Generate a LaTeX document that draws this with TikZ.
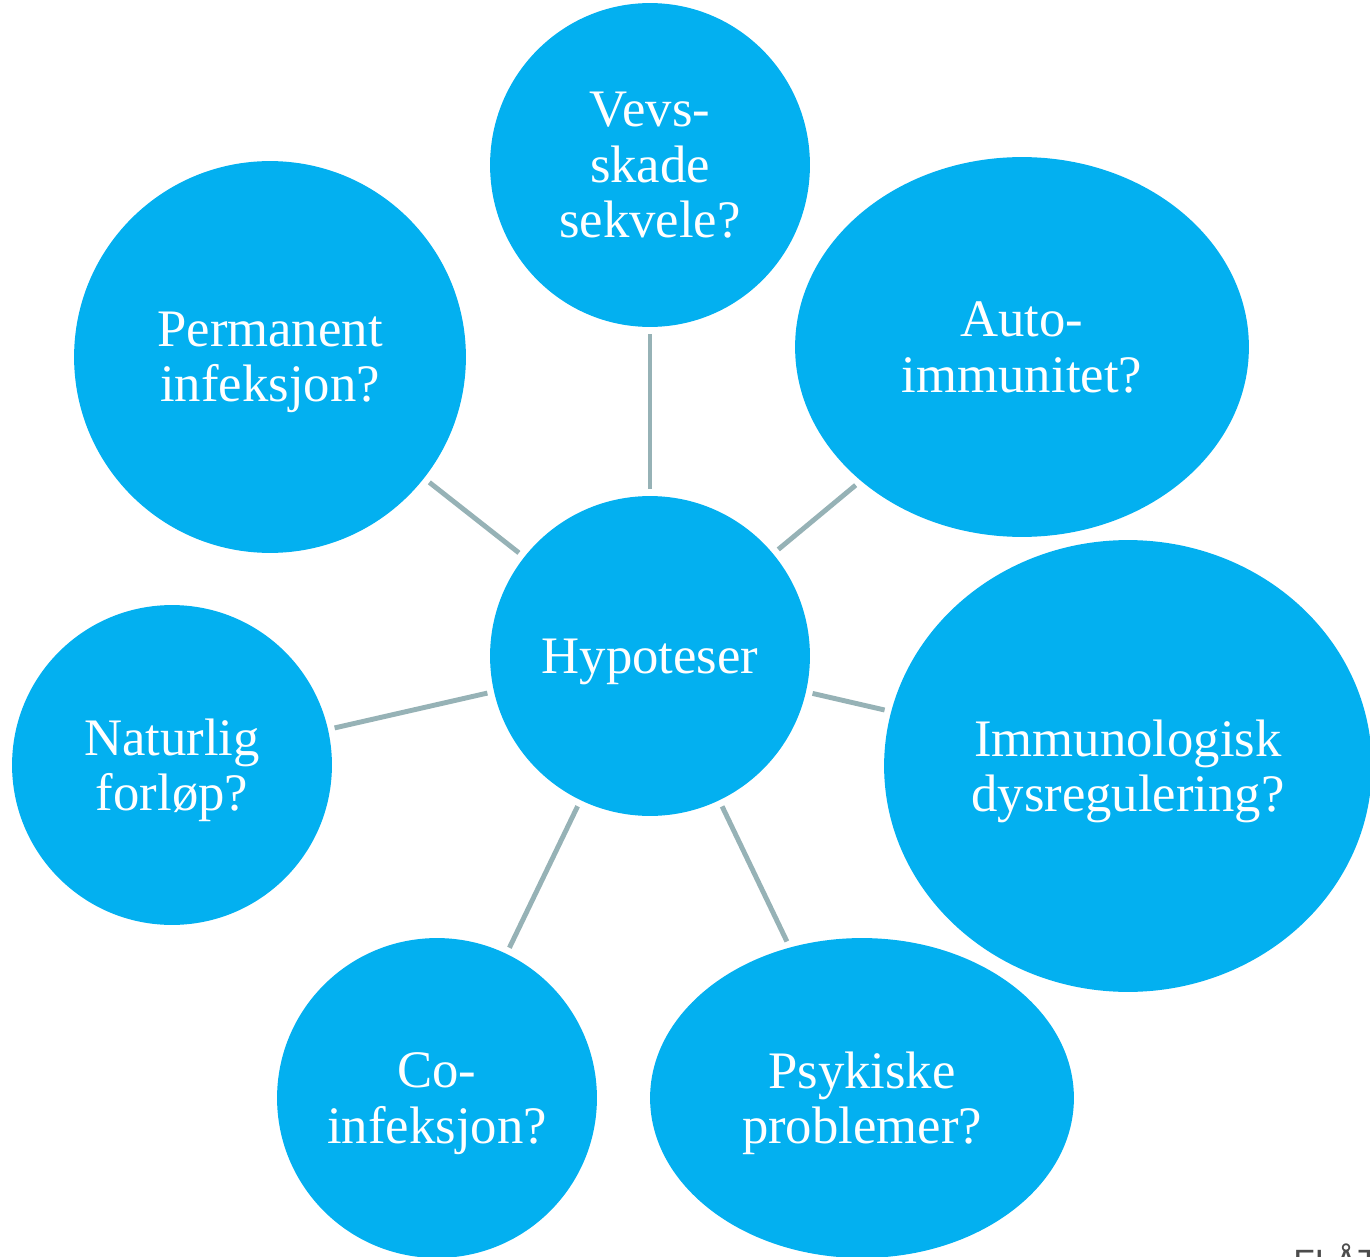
\documentclass[tikz,border=0pt]{standalone}
\usepackage{fontspec}
\setmainfont{Liberation Serif}
\newfontfamily\flatfont{Liberation Sans}
\usetikzlibrary{shapes.geometric}
\definecolor{bubble}{RGB}{3,176,240}
\definecolor{linkc}{RGB}{150,178,182}
\tikzset{
  bub/.style 2 args={ellipse, fill=bubble, draw=none, text=white, align=center,
    inner sep=0pt, text depth=0pt, minimum width=#1*0.04cm, minimum height=#2*0.04cm,
    font=\fontsize{30}{31.5}\selectfont},
  link/.style={draw=linkc, line width=2.8pt, shorten <=0.13cm, shorten >=0.13cm}
}
\begin{document}
\begin{tikzpicture}[x=0.02cm,y=-0.02cm]
\useasboundingbox (0,0) rectangle (1370,1257);
\node[bub={160}{160}] (hyp) at (650,656) {Hypoteser};
\node[bub={160}{162}] (vevs) at (650,165) {Vevs-\\skade\\sekvele?};
\node[bub={196}{196}] (perm) at (270,357) {Permanent\\infeksjon?};
\node[bub={227}{190}] (auto) at (1022,347) {Auto-\\immunitet?};
\node[bub={244}{226}] (immu) at (1128,766) {Immunologisk\\dysregulering?};
\node[bub={160}{160}] (nat) at (172,765) {Naturlig\\forløp?};
\node[bub={160}{160}] (co) at (437,1098) {Co-\\infeksjon?};
\node[bub={212}{160}] (psyk) at (862,1098) {Psykiske\\problemer?};
\draw[link] (hyp) -- (vevs);
\draw[link] (hyp) -- (perm);
\draw[link] (hyp) -- (auto);
\draw[link] (hyp) -- (immu);
\draw[link] (hyp) -- (nat);
\draw[link] (hyp) -- (co);
\draw[link] (hyp) -- (psyk);
\node[anchor=base west, inner sep=0pt, text=black!70, font=\flatfont\fontsize{20}{24}\selectfont] (flat) at (1293,1274) {FLÅT};
\end{tikzpicture}
\end{document}
